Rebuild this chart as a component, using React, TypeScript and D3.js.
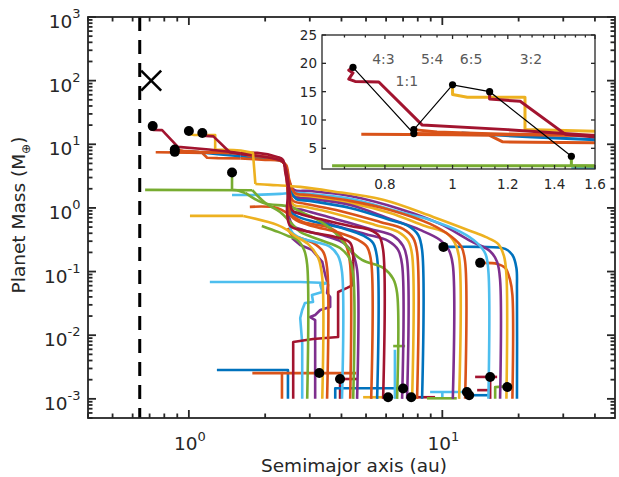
import React from "react";
import * as d3 from "d3";

type P = [number, number];

// ---------- axes ----------
const xDomain: [number, number] = [0.4, 48];
const yDomain: [number, number] = [5e-4, 1e3];
const xTickExp = [0, 1];
const yTickExp = [-3, -2, -1, 0, 1, 2, 3];
const xTitle = "Semimajor axis (au)";
const yTitle = "Planet Mass (M";
const yTitleSub = "⊕";

const innerEdge = 0.64;
const crossMark: P = [0.71, 100];

// ---------- inset ----------
const insetXDomain: [number, number] = [0.65, 1.6];
const insetYDomain: [number, number] = [1.35, 25];
const insetXTicks = [0.8, 1, 1.2, 1.4, 1.6];
const insetXMinor = [0.7, 0.75, 0.85, 0.9, 0.95, 1.05, 1.1, 1.15, 1.25, 1.3, 1.35, 1.45, 1.5, 1.55];
const insetYTicks = [5, 10, 15, 20, 25];
const finalPlanets: P[] = [[0.72, 19.3], [0.88, 7.6], [0.88, 8.3], [1.0, 16.2], [1.13, 15.0], [1.48, 3.6]];
const ratioLabels = ["4:3", "5:4", "6:5", "3:2", "1:1"];
const ratioA = [0.796, 0.935, 1.063, 1.295, 0.86];
const ratioM = [20.8, 20.8, 20.8, 20.8, 16.9];

// ---------- final positions of stranded bodies ----------
const strandedDots: P[] = [
  [10.1, 0.244], [14.1, 0.137], [3.27, 0.00254], [3.95, 0.00205], [7.0, 0.00145], [6.11, 0.00106],
  [7.54, 0.00106], [12.5, 0.00128], [12.76, 0.00114], [15.44, 0.00221], [18.05, 0.00153],
];

// ---------- growth tracks (a [au], M [M_earth]) ----------
// piecewise-straight pieces drawn below the smooth tracks
const headTracks: P[][] = [
  [[2.46, 0.001], [2.46, 0.00284], [1.29, 0.00284]],
  [[2.33, 0.001], [2.33, 0.00254], [1.78, 0.00254]],
  [[2.33, 0.00254], [4.57, 0.00254]],
  [[3.95, 0.001], [3.95, 0.00205]],
  [[3.78, 0.00205], [4.61, 0.00205]],
  [[3.78, 0.001], [3.78, 0.00147], [6.94, 0.00147]],
  [[4.87, 0.00106], [6.11, 0.00106]],
  [[7.54, 0.00106], [9.36, 0.00106]],
  [[8.95, 0.00128], [12.5, 0.00128]],
  [[10.0, 0.00128], [10.0, 0.001]],
  [[8.7, 0.00102], [11.4, 0.00102]],
  [[12.76, 0.00114], [15.16, 0.00114]],
  [[13.47, 0.00221], [16.45, 0.00221]],
  [[13.72, 0.00137], [15.44, 0.00137]],
  [[15.44, 0.00221], [15.44, 0.001]],
  [[16.16, 0.001], [16.16, 0.00153], [18.05, 0.00158]],
  [[6.4, 0.00675], [7.13, 0.00675]],
  [[6.5, 0.001], [6.5, 0.0059]],
  [[3.15, 0.001], [3.15, 0.0173], [3.01, 0.0193], [3.15, 0.0208], [3.3, 0.0249], [3.61, 0.0278], [3.61, 0.0399], [3.51, 0.0461], [3.54, 0.0617], [3.45, 0.0885], [3.36, 0.142], [3.06, 0.219], [2.75, 0.262], [2.55, 0.337]],
  [[2.8, 0.001], [2.8, 0.00753], [2.75, 0.0186], [2.8, 0.0249], [2.87, 0.0321], [3.09, 0.0333], [3.06, 0.0429], [3.36, 0.0478], [3.3, 0.0617], [3.51, 0.0662], [2.75, 0.0686], [1.21, 0.0686]],
  [[2.58, 0.001], [2.58, 0.00781], [3.09, 0.0087], [3.88, 0.00938], [3.88, 0.0478], [4.21, 0.0553], [4.45, 0.0617], [4.45, 0.142]],
];
const headColors = ["blue", "orange", "orange", "red", "red", "blue", "yellow", "red", "lightblue", "lightblue", "green", "blue", "red", "red", "red", "green", "green", "lightblue", "purple", "lightblue", "red"];

// smooth migration pieces
const smoothTracks: P[][] = [
  [[19.7, 0.001], [19.7, 0.0514], [19.6, 0.114], [18.9, 0.182], [17.7, 0.227], [14.1, 0.244], [10.1, 0.244]],
  [[18.9, 0.001], [18.9, 0.0429], [18.5, 0.0739], [17.7, 0.114], [16.5, 0.132], [14.1, 0.137]],
  [[16.9, 0.001], [16.9, 0.0739], [16.45, 0.142], [15.4, 0.211], [12.9, 0.303], [9.8, 0.561], [6.8, 0.964], [4.33, 1.54], [3.0, 1.85], [2.6, 1.92], [2.49, 2.57], [2.44, 3.3]],
  [[15.2, 0.001], [15.2, 0.0986], [14.8, 0.189], [13.7, 0.282], [11.8, 0.42], [8.95, 0.648], [6.8, 0.865], [4.33, 1.39], [3.0, 1.66], [2.51, 1.72], [2.29, 1.66], [1.79, 1.6], [1.48, 1.6]],
  [[11.65, 0.001], [11.65, 0.164], [11.2, 0.282], [10.35, 0.405], [8.55, 0.521], [6.22, 0.835], [4.33, 1.2], [3.0, 1.49], [2.62, 1.6], [2.49, 2.3]],
  [[11.0, 0.001], [11.0, 0.127], [10.6, 0.219], [9.8, 0.314], [8.17, 0.451], [6.22, 0.671], [4.33, 1.11], [3.0, 1.39], [2.62, 1.49], [2.49, 1.92]],
  [[6.94, 0.001], [6.94, 0.127], [6.69, 0.219], [6.11, 0.303], [4.96, 0.39], [3.61, 0.561], [2.82, 0.805], [2.58, 0.865], [2.49, 1.04]],
  [[7.26, 0.001], [7.26, 0.152], [7.0, 0.253], [6.4, 0.363], [5.19, 0.468], [3.78, 0.671], [2.82, 0.93], [2.58, 1.0], [2.49, 1.2]],
  [[7.6, 0.001], [7.6, 0.182], [7.33, 0.303], [6.69, 0.42], [5.43, 0.541], [3.95, 0.776], [2.87, 1.04], [2.6, 1.11], [2.51, 1.34]],
  [[4.61, 0.001], [4.61, 0.106], [4.45, 0.182], [4.13, 0.272], [3.45, 0.363], [2.82, 0.451], [2.58, 0.521], [2.49, 0.696], [2.46, 1.11]],
  [[5.53, 0.001], [5.53, 0.164], [5.33, 0.282], [4.91, 0.363], [4.13, 0.468], [3.15, 0.603], [2.7, 0.722], [2.53, 0.865], [2.46, 1.6], [2.44, 3.3]],
  [[3.51, 0.001], [3.51, 0.114], [3.39, 0.203], [3.09, 0.282], [2.75, 0.337], [2.55, 0.376], [2.46, 0.485]],
  [[4.02, 0.001], [4.02, 0.0986], [3.88, 0.176], [3.61, 0.244], [3.15, 0.292], [2.75, 0.337], [2.55, 0.42], [2.49, 0.603]],
  [[2.93, 0.001], [2.93, 0.127], [2.85, 0.219], [2.68, 0.314], [2.46, 0.363], [2.25, 0.42], [1.94, 0.521]],
  [[3.36, 0.001], [3.36, 0.0794], [3.24, 0.164], [2.95, 0.272], [2.62, 0.363], [2.44, 0.451], [2.23, 0.541], [1.64, 0.749]],
  [[4.33, 0.001], [4.33, 0.127], [4.21, 0.235], [3.95, 0.376], [3.61, 0.485], [2.82, 0.603], [2.51, 0.776], [2.23, 1.0], [1.74, 1.04]],
  [[4.45, 0.001], [4.45, 0.0885], [4.29, 0.164], [3.95, 0.235], [3.3, 0.314], [2.75, 0.42], [2.51, 0.603], [2.29, 0.865], [2.0, 1.2], [1.78, 1.9]],
  [[6.63, 0.001], [6.63, 0.0461], [6.4, 0.0766], [5.84, 0.114], [4.82, 0.152], [4.25, 0.235], [3.78, 0.405], [3.24, 0.648], [2.82, 0.835], [2.51, 1.04], [1.96, 1.2], [1.67, 1.72]],
  [[8.32, 0.001], [8.32, 0.219], [8.03, 0.376], [7.33, 0.521], [6.22, 0.648], [4.33, 1.0], [3.0, 1.29], [2.65, 1.39], [2.51, 1.92], [2.44, 3.96], [2.35, 5.29], [2.0, 5.9], [1.6, 6.5]],
  [[7.95, 0.001], [7.95, 0.203], [7.67, 0.337], [7.0, 0.468], [5.68, 0.603], [3.95, 0.897], [2.87, 1.16], [2.58, 1.29], [2.49, 1.92], [2.42, 3.96], [2.33, 5.49], [2.0, 6.34], [1.6, 7.3]],
  [[5.24, 0.001], [5.24, 0.142], [5.05, 0.244], [4.65, 0.314], [3.95, 0.405], [3.06, 0.521], [2.68, 0.625], [2.53, 0.749], [2.46, 1.6], [2.42, 3.3], [2.37, 5.1], [2.19, 6.12], [1.74, 6.57], [1.6, 7.2]],
  [[12.3, 0.001], [12.3, 0.142], [11.9, 0.244], [10.9, 0.35], [8.95, 0.561], [6.22, 0.93], [4.33, 1.29], [3.0, 1.6], [2.62, 1.72], [2.49, 2.76], [2.42, 4.74], [2.29, 5.49], [2.0, 5.69], [1.6, 6.0]],
  [[17.9, 0.001], [17.9, 0.0885], [17.5, 0.176], [16.6, 0.272], [14.8, 0.35], [12.9, 0.435], [9.2, 0.722], [5.84, 1.34], [3.61, 1.85], [2.75, 2.14], [2.46, 2.22], [2.09, 2.3], [1.83, 2.38]],
  [[5.84, 0.001], [5.84, 0.219], [5.63, 0.363], [5.19, 0.451], [4.33, 0.521], [3.3, 0.671], [2.75, 0.805], [2.55, 0.93], [2.49, 1.92], [2.42, 3.96], [2.35, 5.29], [2.09, 6.12], [1.6, 7.0]],
  [[4.45, 0.142], [4.33, 0.282], [3.78, 0.35], [2.87, 0.435], [2.51, 0.521], [2.44, 0.865], [2.46, 1.92], [2.4, 3.68], [2.35, 5.69], [2.23, 6.34], [1.86, 7.33], [1.6, 7.2]],
];
const smoothColors = ["blue", "orange", "purple", "lightblue", "yellow", "purple", "purple", "purple", "yellow", "purple", "blue", "orange", "lightblue", "green", "yellow", "orange", "green", "green", "blue", "orange", "orange", "orange", "yellow", "red", "red"];

// piecewise-straight final pieces drawn on top
const tailTracks: P[][] = [
  [[1.64, 0.749], [1.01, 0.749]],
  [[1.78, 1.9], [0.672, 1.92]],
  [[1.67, 1.72], [1.55, 1.9], [1.48, 1.93], [1.48, 3.6]],
  [[1.6, 6.0], [1.3, 6.05], [1.18, 6.15], [1.13, 7.3], [1.0, 7.4], [0.74, 7.5]],
  [[1.6, 6.5], [1.3, 7.0], [1.03, 7.7]],
  [[1.6, 7.3], [1.2, 7.4], [0.88, 7.6]],
  [[1.6, 7.2], [1.1, 7.6], [0.95, 7.9], [0.88, 8.3]],
  [[1.83, 2.38], [1.79, 7.33], [1.6, 8.0], [1.5, 8.1], [1.27, 8.3], [1.27, 14.0], [1.05, 14.0], [1.0, 14.5], [1.0, 16.2]],
  [[1.6, 7.0], [1.45, 7.5], [1.25, 13.3], [1.13, 13.7], [1.13, 15.0]],
  [[1.6, 7.2], [1.5, 7.5], [1.2, 8.3], [0.905, 9.1], [0.784, 16.7], [0.725, 16.8], [0.71, 17.2], [0.72, 18.3], [0.71, 18.8], [0.72, 19.3]],
];
const tailColors = ["yellow", "green", "green", "orange", "blue", "orange", "orange", "yellow", "red", "red"];

// ---------- styles ----------
const palette: Record<string, string> = {
  blue: "#0072BD", orange: "#D95319", yellow: "#EDB120", purple: "#7E2F8E",
  green: "#77AC30", lightblue: "#4DBEEE", red: "#A2142F",
};
const AX = "#262626";
const FONT = "DejaVu Sans, sans-serif";
const X0 = 88, X1 = 615, Y0 = 17, Y1 = 418;
const IX0 = 322, IX1 = 595, IY0 = 35, IY1 = 169;

function minorLog(domain: [number, number], lo: number, hi: number) {
  const out: number[] = [];
  for (let e = lo; e <= hi; e++) for (let m = 2; m <= 9; m++) {
    const v = m * Math.pow(10, e);
    if (v >= domain[0] * 0.999 && v <= domain[1] * 1.001) out.push(v);
  }
  return out;
}

export default function App() {
  const x = d3.scaleLog().domain(xDomain).range([X0, X1]);
  const y = d3.scaleLog().domain(yDomain).range([Y1, Y0]);
  const smooth = d3.line<P>().x(d => x(d[0])).y(d => y(d[1])).curve(d3.curveCatmullRom.alpha(0.5));
  const straight = d3.line<P>().x(d => x(d[0])).y(d => y(d[1]));
  const ix = d3.scaleLog().domain(insetXDomain).range([IX0, IX1]);
  const iy = d3.scaleLinear().domain(insetYDomain).range([IY1, IY0]);
  const ismooth = d3.line<P>().x(d => ix(d[0])).y(d => iy(d[1])).curve(d3.curveCatmullRom.alpha(0.5));
  const istraight = d3.line<P>().x(d => ix(d[0])).y(d => iy(d[1]));

  const xMinor = minorLog(xDomain, -1, 1);
  const yMinor = minorLog(yDomain, -4, 2);
  const majX = 8, minX = 4.5;

  const drawTracks = (sm: typeof smooth, st: typeof straight, w: number, pre: string) => (
    <>
      {headTracks.map((t, i) => (
        <path key={pre + "h" + i} d={st(t) || ""} fill="none" stroke={palette[headColors[i]]} strokeWidth={w} strokeLinejoin="round" />
      ))}
      {smoothTracks.map((t, i) => (
        <path key={pre + "s" + i} d={sm(t) || ""} fill="none" stroke={palette[smoothColors[i]]} strokeWidth={w} strokeLinejoin="round" />
      ))}
      {tailTracks.map((t, i) => (
        <path key={pre + "t" + i} d={st(t) || ""} fill="none" stroke={palette[tailColors[i]]} strokeWidth={w} strokeLinejoin="round" />
      ))}
    </>
  );

  return (
    <svg width={619} height={477} style={{ position: "absolute", left: 0, top: 0, background: "#fff" }} fontFamily={FONT}>
      <rect x={0} y={0} width={619} height={477} fill="#fff" />
      <defs>
        <clipPath id="mainClip"><rect x={X0} y={Y0} width={X1 - X0} height={Y1 - Y0} /></clipPath>
        <clipPath id="insetClip"><rect x={IX0} y={IY0} width={IX1 - IX0} height={IY1 - IY0} /></clipPath>
      </defs>

      {/* main data */}
      <g clipPath="url(#mainClip)">
        {drawTracks(smooth, straight, 2.6, "m")}
        <line x1={x(innerEdge)} x2={x(innerEdge)} y1={Y0} y2={Y1} stroke="#000" strokeWidth={3} strokeDasharray="14,9" />
        {[...finalPlanets, ...strandedDots].map((d, i) => (
          <circle key={"d" + i} cx={x(d[0])} cy={y(d[1])} r={5} fill="#000" />
        ))}
        <g stroke="#000" strokeWidth={2.6}>
          <line x1={x(crossMark[0]) - 10} x2={x(crossMark[0]) + 10} y1={y(crossMark[1]) - 10} y2={y(crossMark[1]) + 10} />
          <line x1={x(crossMark[0]) - 10} x2={x(crossMark[0]) + 10} y1={y(crossMark[1]) + 10} y2={y(crossMark[1]) - 10} />
        </g>
      </g>

      {/* main axes */}
      <g stroke={AX} strokeWidth={1.8}>
        <rect x={X0} y={Y0} width={X1 - X0} height={Y1 - Y0} fill="none" />
        {xTickExp.map(e => {
          const px = x(Math.pow(10, e));
          return <g key={"xm" + e}><line x1={px} x2={px} y1={Y1} y2={Y1 - majX} /><line x1={px} x2={px} y1={Y0} y2={Y0 + majX} /></g>;
        })}
        {xMinor.map((v, i) => {
          const px = x(v);
          return <g key={"xn" + i}><line x1={px} x2={px} y1={Y1} y2={Y1 - minX} /><line x1={px} x2={px} y1={Y0} y2={Y0 + minX} /></g>;
        })}
        {yTickExp.map(e => {
          const py = y(Math.pow(10, e));
          return <g key={"ym" + e}><line x1={X0} x2={X0 + majX} y1={py} y2={py} /><line x1={X1} x2={X1 - majX} y1={py} y2={py} /></g>;
        })}
        {yMinor.map((v, i) => {
          const py = y(v);
          return <g key={"yn" + i}><line x1={X0} x2={X0 + minX} y1={py} y2={py} /><line x1={X1} x2={X1 - minX} y1={py} y2={py} /></g>;
        })}
      </g>
      <g fill={AX} fontSize={18.5}>
        {xTickExp.map(e => (
          <text key={"xl" + e} x={x(Math.pow(10, e)) + 1} y={450} textAnchor="middle">10<tspan dy={-9} fontSize={13}>{e}</tspan></text>
        ))}
        {yTickExp.map(e => (
          <text key={"yl" + e} x={80.5} y={y(Math.pow(10, e)) + 11} textAnchor="end">10<tspan dy={-10} fontSize={13}>{e}</tspan></text>
        ))}
        <text x={354} y={472} textAnchor="middle">{xTitle}</text>
        <text transform="translate(25,215) rotate(-90)" textAnchor="middle">{yTitle}<tspan dy={5} fontSize={12}>{yTitleSub}</tspan><tspan dy={-5}>)</tspan></text>
      </g>

      {/* inset */}
      <rect x={IX0} y={IY0} width={IX1 - IX0} height={IY1 - IY0} fill="#fff" />
      <g clipPath="url(#insetClip)">
        {drawTracks(ismooth, istraight, 3, "i")}
        <path d={istraight(finalPlanets) || ""} fill="none" stroke="#000" strokeWidth={1.2} />
        {finalPlanets.map((d, i) => (
          <circle key={"id" + i} cx={ix(d[0])} cy={iy(d[1])} r={3.6} fill="#000" />
        ))}
      </g>
      <g fill="#595959" fontSize={14}>
        {ratioLabels.map((s, i) => (
          <text key={"r" + i} x={ix(ratioA[i])} y={iy(ratioM[i])} textAnchor="middle" dominantBaseline="central">{s}</text>
        ))}
      </g>
      <g stroke={AX} strokeWidth={1.3}>
        <rect x={IX0} y={IY0} width={IX1 - IX0} height={IY1 - IY0} fill="none" />
        {insetXTicks.map((v, i) => (
          <g key={"ixt" + i}><line x1={ix(v)} x2={ix(v)} y1={IY1} y2={IY1 - 4} /><line x1={ix(v)} x2={ix(v)} y1={IY0} y2={IY0 + 4} /></g>
        ))}
        {insetXMinor.map((v, i) => (
          <g key={"ixm" + i}><line x1={ix(v)} x2={ix(v)} y1={IY1} y2={IY1 - 2.5} /><line x1={ix(v)} x2={ix(v)} y1={IY0} y2={IY0 + 2.5} /></g>
        ))}
        {insetYTicks.map((v, i) => (
          <g key={"iyt" + i}><line x1={IX0} x2={IX0 + 4} y1={iy(v)} y2={iy(v)} /><line x1={IX1} x2={IX1 - 4} y1={iy(v)} y2={iy(v)} /></g>
        ))}
      </g>
      <g fill={AX} fontSize={13.5}>
        {insetXTicks.map((v, i) => (
          <text key={"ixl" + i} x={ix(v)} y={189} textAnchor="middle">{String(v)}</text>
        ))}
        {insetYTicks.map((v, i) => (
          <text key={"iyl" + i} x={317} y={iy(v) + 5} textAnchor="end">{String(v)}</text>
        ))}
      </g>
    </svg>
  );
}
